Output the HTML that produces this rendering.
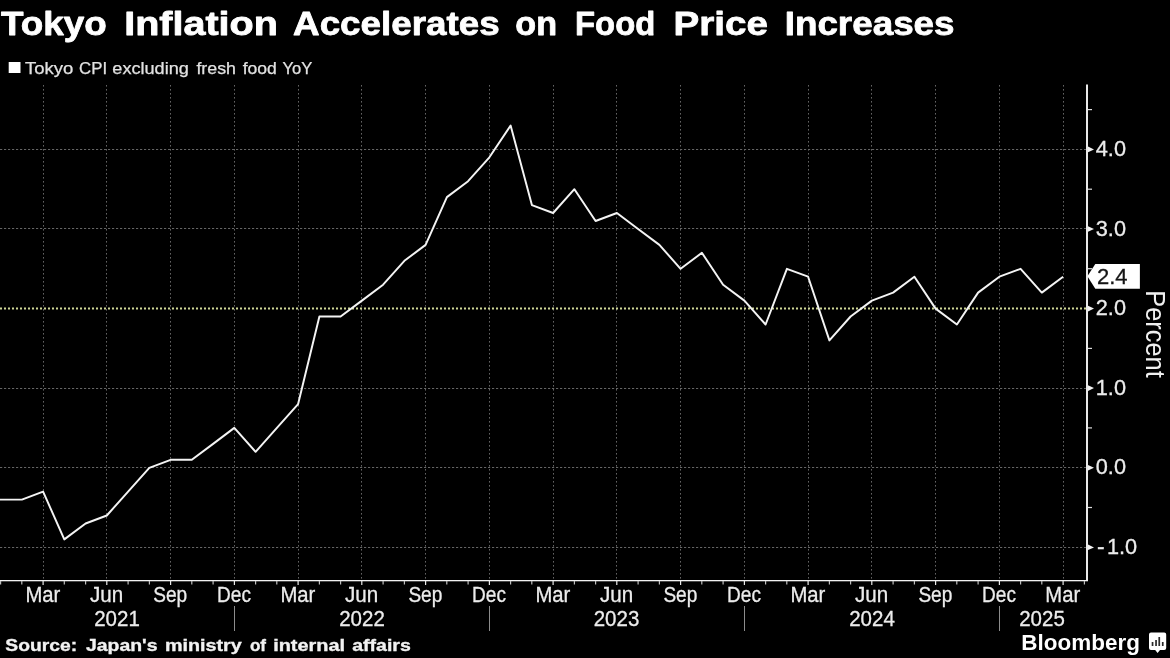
<!DOCTYPE html>
<html><head><meta charset="utf-8"><title>Tokyo Inflation Accelerates on Food Price Increases</title>
<style>html,body{margin:0;padding:0;background:#000;}body{width:1170px;height:658px;overflow:hidden;font-family:"Liberation Sans",sans-serif;}svg{display:block;will-change:transform;}text{font-family:"Liberation Sans",sans-serif;}</style>
</head><body>
<svg width="1170" height="658" viewBox="0 0 1170 658">
<rect x="0" y="0" width="1170" height="658" fill="#000"/>
<g stroke="#646464" stroke-width="1" stroke-dasharray="1.6 2.4" fill="none">
<line x1="43.5" y1="85" x2="43.5" y2="580"/>
<line x1="106.5" y1="85" x2="106.5" y2="580"/>
<line x1="170.5" y1="85" x2="170.5" y2="580"/>
<line x1="234.5" y1="85" x2="234.5" y2="580"/>
<line x1="298.5" y1="85" x2="298.5" y2="580"/>
<line x1="361.5" y1="85" x2="361.5" y2="580"/>
<line x1="425.5" y1="85" x2="425.5" y2="580"/>
<line x1="489.5" y1="85" x2="489.5" y2="580"/>
<line x1="553.5" y1="85" x2="553.5" y2="580"/>
<line x1="616.5" y1="85" x2="616.5" y2="580"/>
<line x1="680.5" y1="85" x2="680.5" y2="580"/>
<line x1="744.5" y1="85" x2="744.5" y2="580"/>
<line x1="808.5" y1="85" x2="808.5" y2="580"/>
<line x1="871.5" y1="85" x2="871.5" y2="580"/>
<line x1="935.5" y1="85" x2="935.5" y2="580"/>
<line x1="999.5" y1="85" x2="999.5" y2="580"/>
<line x1="1063.5" y1="85" x2="1063.5" y2="580"/>
</g>
<g stroke="#646464" stroke-width="1" stroke-dasharray="2.2 1.8" fill="none">
<line x1="0" y1="149.5" x2="1086" y2="149.5"/>
<line x1="0" y1="228.5" x2="1086" y2="228.5"/>
<line x1="0" y1="388.5" x2="1086" y2="388.5"/>
<line x1="0" y1="467.5" x2="1086" y2="467.5"/>
<line x1="0" y1="547.5" x2="1086" y2="547.5"/>
</g>
<line x1="0" y1="308.5" x2="1086" y2="308.5" stroke="#d0d898" stroke-width="2" stroke-dasharray="2 2"/>
<polyline points="-1.0,499.6 0.6,499.6 21.9,499.6 43.1,491.6 64.3,539.4 85.6,523.5 106.8,515.5 128.1,491.6 149.3,467.8 170.6,459.8 191.8,459.8 213.1,443.9 234.3,427.9 255.6,451.8 276.9,427.9 298.1,404.1 319.4,316.5 340.6,316.5 361.9,300.6 383.1,284.7 404.4,260.8 425.6,244.9 446.9,197.1 468.1,181.2 489.4,157.3 510.6,125.5 531.9,205.1 553.1,213.0 574.4,189.2 595.6,221.0 616.9,213.0 638.1,229.0 659.4,244.9 680.6,268.8 701.9,252.8 723.1,284.7 744.4,300.6 765.6,324.5 786.9,268.8 808.1,276.7 829.4,340.4 850.6,316.5 871.9,300.6 893.1,292.6 914.4,276.7 935.6,308.6 956.9,324.5 978.1,292.6 999.4,276.7 1020.6,268.8 1041.8,292.6 1063.1,276.7" fill="none" stroke="#f4f4f4" stroke-width="1.95" stroke-linejoin="round" stroke-linecap="butt"/>
<rect x="1086" y="84.5" width="2" height="496.5" fill="#e9e9e9"/>
<rect x="0" y="580" width="1088" height="1.3" fill="#f2f2f2"/>
<rect x="0.0" y="581" width="1.2" height="3.5" fill="#bdbdbd"/>
<rect x="21.2" y="581" width="1.2" height="3.5" fill="#bdbdbd"/>
<rect x="42.5" y="581" width="1.2" height="4.0" fill="#e8e8e8"/>
<rect x="63.7" y="581" width="1.2" height="3.5" fill="#bdbdbd"/>
<rect x="85.0" y="581" width="1.2" height="3.5" fill="#bdbdbd"/>
<rect x="106.2" y="581" width="1.2" height="4.0" fill="#e8e8e8"/>
<rect x="127.5" y="581" width="1.2" height="3.5" fill="#bdbdbd"/>
<rect x="148.8" y="581" width="1.2" height="3.5" fill="#bdbdbd"/>
<rect x="170.0" y="581" width="1.2" height="4.0" fill="#e8e8e8"/>
<rect x="191.2" y="581" width="1.2" height="3.5" fill="#bdbdbd"/>
<rect x="212.5" y="581" width="1.2" height="3.5" fill="#bdbdbd"/>
<rect x="233.8" y="581" width="1.2" height="4.0" fill="#e8e8e8"/>
<rect x="255.0" y="581" width="1.2" height="3.5" fill="#bdbdbd"/>
<rect x="276.2" y="581" width="1.2" height="3.5" fill="#bdbdbd"/>
<rect x="297.5" y="581" width="1.2" height="4.0" fill="#e8e8e8"/>
<rect x="318.8" y="581" width="1.2" height="3.5" fill="#bdbdbd"/>
<rect x="340.0" y="581" width="1.2" height="3.5" fill="#bdbdbd"/>
<rect x="361.2" y="581" width="1.2" height="4.0" fill="#e8e8e8"/>
<rect x="382.5" y="581" width="1.2" height="3.5" fill="#bdbdbd"/>
<rect x="403.8" y="581" width="1.2" height="3.5" fill="#bdbdbd"/>
<rect x="425.0" y="581" width="1.2" height="4.0" fill="#e8e8e8"/>
<rect x="446.2" y="581" width="1.2" height="3.5" fill="#bdbdbd"/>
<rect x="467.5" y="581" width="1.2" height="3.5" fill="#bdbdbd"/>
<rect x="488.8" y="581" width="1.2" height="4.0" fill="#e8e8e8"/>
<rect x="510.0" y="581" width="1.2" height="3.5" fill="#bdbdbd"/>
<rect x="531.2" y="581" width="1.2" height="3.5" fill="#bdbdbd"/>
<rect x="552.5" y="581" width="1.2" height="4.0" fill="#e8e8e8"/>
<rect x="573.8" y="581" width="1.2" height="3.5" fill="#bdbdbd"/>
<rect x="595.0" y="581" width="1.2" height="3.5" fill="#bdbdbd"/>
<rect x="616.2" y="581" width="1.2" height="4.0" fill="#e8e8e8"/>
<rect x="637.5" y="581" width="1.2" height="3.5" fill="#bdbdbd"/>
<rect x="658.8" y="581" width="1.2" height="3.5" fill="#bdbdbd"/>
<rect x="680.0" y="581" width="1.2" height="4.0" fill="#e8e8e8"/>
<rect x="701.2" y="581" width="1.2" height="3.5" fill="#bdbdbd"/>
<rect x="722.5" y="581" width="1.2" height="3.5" fill="#bdbdbd"/>
<rect x="743.8" y="581" width="1.2" height="4.0" fill="#e8e8e8"/>
<rect x="765.0" y="581" width="1.2" height="3.5" fill="#bdbdbd"/>
<rect x="786.2" y="581" width="1.2" height="3.5" fill="#bdbdbd"/>
<rect x="807.5" y="581" width="1.2" height="4.0" fill="#e8e8e8"/>
<rect x="828.8" y="581" width="1.2" height="3.5" fill="#bdbdbd"/>
<rect x="850.0" y="581" width="1.2" height="3.5" fill="#bdbdbd"/>
<rect x="871.2" y="581" width="1.2" height="4.0" fill="#e8e8e8"/>
<rect x="892.5" y="581" width="1.2" height="3.5" fill="#bdbdbd"/>
<rect x="913.8" y="581" width="1.2" height="3.5" fill="#bdbdbd"/>
<rect x="935.0" y="581" width="1.2" height="4.0" fill="#e8e8e8"/>
<rect x="956.2" y="581" width="1.2" height="3.5" fill="#bdbdbd"/>
<rect x="977.5" y="581" width="1.2" height="3.5" fill="#bdbdbd"/>
<rect x="998.8" y="581" width="1.2" height="4.0" fill="#e8e8e8"/>
<rect x="1020.0" y="581" width="1.2" height="3.5" fill="#bdbdbd"/>
<rect x="1041.2" y="581" width="1.2" height="3.5" fill="#bdbdbd"/>
<rect x="1062.5" y="581" width="1.2" height="4.0" fill="#e8e8e8"/>
<rect x="1083.8" y="581" width="1.2" height="3.5" fill="#bdbdbd"/>
<polygon points="1088,544.6 1094,547.4 1088,550.1" fill="#f2f2f2"/>
<rect x="1088" y="506.9" width="4" height="1.2" fill="#dcdcdc"/>
<polygon points="1088,464.9 1094,467.8 1088,470.6" fill="#f2f2f2"/>
<rect x="1088" y="427.3" width="4" height="1.2" fill="#dcdcdc"/>
<polygon points="1088,385.3 1094,388.1 1088,390.9" fill="#f2f2f2"/>
<rect x="1088" y="347.8" width="4" height="1.2" fill="#dcdcdc"/>
<polygon points="1088,305.8 1094,308.6 1088,311.4" fill="#f2f2f2"/>
<rect x="1088" y="268.1" width="4" height="1.2" fill="#dcdcdc"/>
<polygon points="1088,226.2 1094,229.0 1088,231.8" fill="#f2f2f2"/>
<rect x="1088" y="188.6" width="4" height="1.2" fill="#dcdcdc"/>
<polygon points="1088,146.6 1094,149.4 1088,152.2" fill="#f2f2f2"/>
<rect x="1088" y="109.0" width="4" height="1.2" fill="#dcdcdc"/>
<text x="1095.8" y="156.1" font-size="22.00" fill="#ececec" font-weight="normal" text-anchor="start" textLength="30.2" lengthAdjust="spacingAndGlyphs" stroke="#ececec" stroke-width="0.3">4.0</text>
<text x="1095.8" y="235.7" font-size="22.00" fill="#ececec" font-weight="normal" text-anchor="start" textLength="30.2" lengthAdjust="spacingAndGlyphs" stroke="#ececec" stroke-width="0.3">3.0</text>
<text x="1095.8" y="315.2" font-size="22.00" fill="#ececec" font-weight="normal" text-anchor="start" textLength="30.2" lengthAdjust="spacingAndGlyphs" stroke="#ececec" stroke-width="0.3">2.0</text>
<text x="1095.8" y="394.8" font-size="22.00" fill="#ececec" font-weight="normal" text-anchor="start" textLength="30.2" lengthAdjust="spacingAndGlyphs" stroke="#ececec" stroke-width="0.3">1.0</text>
<text x="1095.8" y="474.4" font-size="22.00" fill="#ececec" font-weight="normal" text-anchor="start" textLength="30.2" lengthAdjust="spacingAndGlyphs" stroke="#ececec" stroke-width="0.3">0.0</text>
<text x="1096.9" y="554.1" font-size="22.00" fill="#ececec" font-weight="normal" text-anchor="start" textLength="7.6" lengthAdjust="spacingAndGlyphs" stroke="#ececec" stroke-width="0.3">-</text>
<text x="1106.9" y="554.1" font-size="22.00" fill="#ececec" font-weight="normal" text-anchor="start" textLength="30.2" lengthAdjust="spacingAndGlyphs" stroke="#ececec" stroke-width="0.3">1.0</text>
<polygon points="1087.4,276.2 1095.3,263.9 1139.9,263.9 1139.9,288.7 1095.3,288.7" fill="#ffffff"/>
<text x="1096.9" y="284.2" font-size="22.00" fill="#151515" font-weight="normal" text-anchor="start" textLength="30.6" lengthAdjust="spacingAndGlyphs" stroke="#151515" stroke-width="0.3">2.4</text>
<g transform="translate(1146.2,290.3) rotate(90)">
<text x="0.0" y="0.0" font-size="27.50" fill="#f0f0f0" font-weight="normal" text-anchor="start" textLength="87.4" lengthAdjust="spacingAndGlyphs" >Percent</text>
</g>
<text x="25.4" y="601.9" font-size="22.00" fill="#ececec" font-weight="normal" text-anchor="start" textLength="34.9" lengthAdjust="spacingAndGlyphs" stroke="#ececec" stroke-width="0.3">Mar</text>
<text x="90.0" y="601.9" font-size="22.00" fill="#ececec" font-weight="normal" text-anchor="start" textLength="33.2" lengthAdjust="spacingAndGlyphs" stroke="#ececec" stroke-width="0.3">Jun</text>
<text x="153.3" y="601.9" font-size="22.00" fill="#ececec" font-weight="normal" text-anchor="start" textLength="33.9" lengthAdjust="spacingAndGlyphs" stroke="#ececec" stroke-width="0.3">Sep</text>
<text x="217.1" y="601.9" font-size="22.00" fill="#ececec" font-weight="normal" text-anchor="start" textLength="33.9" lengthAdjust="spacingAndGlyphs" stroke="#ececec" stroke-width="0.3">Dec</text>
<text x="280.4" y="601.9" font-size="22.00" fill="#ececec" font-weight="normal" text-anchor="start" textLength="34.9" lengthAdjust="spacingAndGlyphs" stroke="#ececec" stroke-width="0.3">Mar</text>
<text x="344.9" y="601.9" font-size="22.00" fill="#ececec" font-weight="normal" text-anchor="start" textLength="33.2" lengthAdjust="spacingAndGlyphs" stroke="#ececec" stroke-width="0.3">Jun</text>
<text x="408.4" y="601.9" font-size="22.00" fill="#ececec" font-weight="normal" text-anchor="start" textLength="33.9" lengthAdjust="spacingAndGlyphs" stroke="#ececec" stroke-width="0.3">Sep</text>
<text x="472.1" y="601.9" font-size="22.00" fill="#ececec" font-weight="normal" text-anchor="start" textLength="33.9" lengthAdjust="spacingAndGlyphs" stroke="#ececec" stroke-width="0.3">Dec</text>
<text x="535.4" y="601.9" font-size="22.00" fill="#ececec" font-weight="normal" text-anchor="start" textLength="34.9" lengthAdjust="spacingAndGlyphs" stroke="#ececec" stroke-width="0.3">Mar</text>
<text x="600.0" y="601.9" font-size="22.00" fill="#ececec" font-weight="normal" text-anchor="start" textLength="33.2" lengthAdjust="spacingAndGlyphs" stroke="#ececec" stroke-width="0.3">Jun</text>
<text x="663.4" y="601.9" font-size="22.00" fill="#ececec" font-weight="normal" text-anchor="start" textLength="33.9" lengthAdjust="spacingAndGlyphs" stroke="#ececec" stroke-width="0.3">Sep</text>
<text x="727.1" y="601.9" font-size="22.00" fill="#ececec" font-weight="normal" text-anchor="start" textLength="33.9" lengthAdjust="spacingAndGlyphs" stroke="#ececec" stroke-width="0.3">Dec</text>
<text x="790.4" y="601.9" font-size="22.00" fill="#ececec" font-weight="normal" text-anchor="start" textLength="34.9" lengthAdjust="spacingAndGlyphs" stroke="#ececec" stroke-width="0.3">Mar</text>
<text x="855.0" y="601.9" font-size="22.00" fill="#ececec" font-weight="normal" text-anchor="start" textLength="33.2" lengthAdjust="spacingAndGlyphs" stroke="#ececec" stroke-width="0.3">Jun</text>
<text x="918.4" y="601.9" font-size="22.00" fill="#ececec" font-weight="normal" text-anchor="start" textLength="33.9" lengthAdjust="spacingAndGlyphs" stroke="#ececec" stroke-width="0.3">Sep</text>
<text x="982.1" y="601.9" font-size="22.00" fill="#ececec" font-weight="normal" text-anchor="start" textLength="33.9" lengthAdjust="spacingAndGlyphs" stroke="#ececec" stroke-width="0.3">Dec</text>
<text x="1045.3" y="601.9" font-size="22.00" fill="#ececec" font-weight="normal" text-anchor="start" textLength="34.9" lengthAdjust="spacingAndGlyphs" stroke="#ececec" stroke-width="0.3">Mar</text>
<text x="94.2" y="625.9" font-size="22.00" fill="#ececec" font-weight="normal" text-anchor="start" textLength="45.6" lengthAdjust="spacingAndGlyphs" stroke="#ececec" stroke-width="0.3">2021</text>
<text x="339.2" y="625.9" font-size="22.00" fill="#ececec" font-weight="normal" text-anchor="start" textLength="45.6" lengthAdjust="spacingAndGlyphs" stroke="#ececec" stroke-width="0.3">2022</text>
<text x="593.7" y="625.9" font-size="22.00" fill="#ececec" font-weight="normal" text-anchor="start" textLength="45.6" lengthAdjust="spacingAndGlyphs" stroke="#ececec" stroke-width="0.3">2023</text>
<text x="849.2" y="625.9" font-size="22.00" fill="#ececec" font-weight="normal" text-anchor="start" textLength="45.6" lengthAdjust="spacingAndGlyphs" stroke="#ececec" stroke-width="0.3">2024</text>
<text x="1019.2" y="625.9" font-size="22.00" fill="#ececec" font-weight="normal" text-anchor="start" textLength="45.6" lengthAdjust="spacingAndGlyphs" stroke="#ececec" stroke-width="0.3">2025</text>
<rect x="234.0" y="606" width="1" height="25" fill="#8c8c8c"/>
<rect x="489.0" y="606" width="1" height="25" fill="#8c8c8c"/>
<rect x="744.0" y="606" width="1" height="25" fill="#8c8c8c"/>
<rect x="999.0" y="606" width="1" height="25" fill="#8c8c8c"/>
<text x="1.1" y="35.4" font-size="33.50" fill="#ffffff" font-weight="bold" text-anchor="start" textLength="105.7" lengthAdjust="spacingAndGlyphs" stroke="#ffffff" stroke-width="0.8" stroke-linejoin="round">Tokyo</text>
<text x="124.2" y="35.4" font-size="33.50" fill="#ffffff" font-weight="bold" text-anchor="start" textLength="153.6" lengthAdjust="spacingAndGlyphs" stroke="#ffffff" stroke-width="0.8" stroke-linejoin="round">Inflation</text>
<text x="293.1" y="35.4" font-size="33.50" fill="#ffffff" font-weight="bold" text-anchor="start" textLength="206.5" lengthAdjust="spacingAndGlyphs" stroke="#ffffff" stroke-width="0.8" stroke-linejoin="round">Accelerates</text>
<text x="515.3" y="35.4" font-size="33.50" fill="#ffffff" font-weight="bold" text-anchor="start" textLength="41.7" lengthAdjust="spacingAndGlyphs" stroke="#ffffff" stroke-width="0.8" stroke-linejoin="round">on</text>
<text x="575.1" y="35.4" font-size="33.50" fill="#ffffff" font-weight="bold" text-anchor="start" textLength="80.1" lengthAdjust="spacingAndGlyphs" stroke="#ffffff" stroke-width="0.8" stroke-linejoin="round">Food</text>
<text x="673.6" y="35.4" font-size="33.50" fill="#ffffff" font-weight="bold" text-anchor="start" textLength="94.4" lengthAdjust="spacingAndGlyphs" stroke="#ffffff" stroke-width="0.8" stroke-linejoin="round">Price</text>
<text x="784.7" y="35.4" font-size="33.50" fill="#ffffff" font-weight="bold" text-anchor="start" textLength="169.9" lengthAdjust="spacingAndGlyphs" stroke="#ffffff" stroke-width="0.8" stroke-linejoin="round">Increases</text>
<rect x="8.7" y="62" width="11.8" height="11" fill="#ffffff"/>
<text x="24.9" y="73.8" font-size="17.00" fill="#e2e2e2" font-weight="normal" text-anchor="start" textLength="48.4" lengthAdjust="spacingAndGlyphs" stroke="#e2e2e2" stroke-width="0.25">Tokyo</text>
<text x="79.0" y="73.8" font-size="17.00" fill="#e2e2e2" font-weight="normal" text-anchor="start" textLength="28.1" lengthAdjust="spacingAndGlyphs" stroke="#e2e2e2" stroke-width="0.25">CPI</text>
<text x="112.3" y="73.8" font-size="17.00" fill="#e2e2e2" font-weight="normal" text-anchor="start" textLength="76.6" lengthAdjust="spacingAndGlyphs" stroke="#e2e2e2" stroke-width="0.25">excluding</text>
<text x="196.4" y="73.8" font-size="17.00" fill="#e2e2e2" font-weight="normal" text-anchor="start" textLength="39.6" lengthAdjust="spacingAndGlyphs" stroke="#e2e2e2" stroke-width="0.25">fresh</text>
<text x="242.7" y="73.8" font-size="17.00" fill="#e2e2e2" font-weight="normal" text-anchor="start" textLength="34.2" lengthAdjust="spacingAndGlyphs" stroke="#e2e2e2" stroke-width="0.25">food</text>
<text x="282.4" y="73.8" font-size="17.00" fill="#e2e2e2" font-weight="normal" text-anchor="start" textLength="29.8" lengthAdjust="spacingAndGlyphs" stroke="#e2e2e2" stroke-width="0.25">YoY</text>
<text x="5.3" y="651.1" font-size="17.00" fill="#f2f2f2" font-weight="bold" text-anchor="start" textLength="71.8" lengthAdjust="spacingAndGlyphs" stroke="#f2f2f2" stroke-width="0.35">Source:</text>
<text x="86.0" y="651.1" font-size="17.00" fill="#f2f2f2" font-weight="bold" text-anchor="start" textLength="71.5" lengthAdjust="spacingAndGlyphs" stroke="#f2f2f2" stroke-width="0.35">Japan's</text>
<text x="164.9" y="651.1" font-size="17.00" fill="#f2f2f2" font-weight="bold" text-anchor="start" textLength="76.8" lengthAdjust="spacingAndGlyphs" stroke="#f2f2f2" stroke-width="0.35">ministry</text>
<text x="249.9" y="651.1" font-size="17.00" fill="#f2f2f2" font-weight="bold" text-anchor="start" textLength="16.2" lengthAdjust="spacingAndGlyphs" stroke="#f2f2f2" stroke-width="0.35">of</text>
<text x="273.2" y="651.1" font-size="17.00" fill="#f2f2f2" font-weight="bold" text-anchor="start" textLength="71.9" lengthAdjust="spacingAndGlyphs" stroke="#f2f2f2" stroke-width="0.35">internal</text>
<text x="352.2" y="651.1" font-size="17.00" fill="#f2f2f2" font-weight="bold" text-anchor="start" textLength="58.6" lengthAdjust="spacingAndGlyphs" stroke="#f2f2f2" stroke-width="0.35">affairs</text>
<text x="1021.3" y="650.1" font-size="21.30" fill="#ffffff" font-weight="bold" text-anchor="start" textLength="118.6" lengthAdjust="spacingAndGlyphs" >Bloomberg</text>
<path d="M1151,632.6 h13.2 a2,2 0 0 1 2,2 v13.5 a2,2 0 0 1 -2,2 h-4.2 l-2.4,2.8 l-2.4,-2.8 h-4.2 a2,2 0 0 1 -2,-2 v-13.5 a2,2 0 0 1 2,-2 z" fill="#ffffff"/>
<rect x="1151.7" y="642.0" width="1.7" height="4.0" fill="#2a2a2a"/>
<rect x="1155.2" y="640.0" width="1.7" height="6.0" fill="#2a2a2a"/>
<rect x="1158.4" y="637.0" width="1.7" height="9.0" fill="#2a2a2a"/>
<rect x="1161.9" y="642.0" width="1.7" height="4.0" fill="#2a2a2a"/>
</svg>
</body></html>
